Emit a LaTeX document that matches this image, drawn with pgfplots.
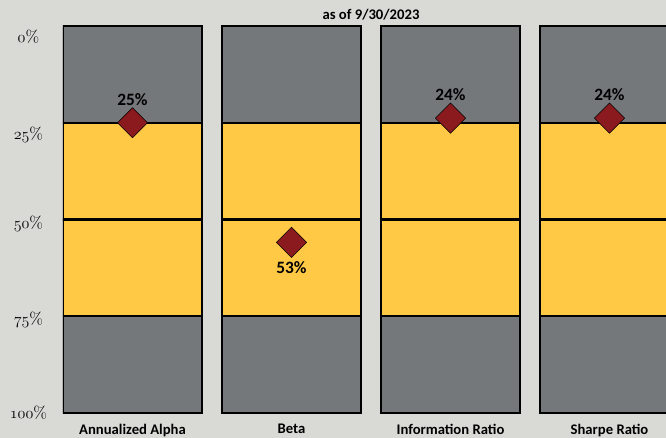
\documentclass[border=0pt]{standalone}
\usepackage{pgfplots}
\pgfplotsset{compat=1.18}
\usepackage{fontspec}
\setmainfont{Carlito}
\definecolor{bg}{HTML}{D9D9D6}
\definecolor{cgray}{HTML}{75787B}
\definecolor{cyel}{HTML}{FFC845}
\definecolor{cred}{HTML}{8B1A1F}
\newcommand\osn[1]{{\usefont{OML}{cmm}{m}{it}#1}{\usefont{TU}{lmr}{m}{n}\%}}
\pgfplotsset{base/.style={
  x=119.25pt, y=2.9025pt, y dir=reverse,
  xmin=-0.4371, xmax=3.6, ymin=0, ymax=100,
  at={(47.25pt,18.75pt)}, anchor=south west,
  axis line style={draw=none}, tick style={draw=none},
}}
\begin{document}
\begin{tikzpicture}
\fill[bg] (0,0) rectangle (499.5pt,328.5pt);
\begin{axis}[base, ybar stacked, bar width=104.25pt,
  xtick={0,1,2,3},
  xticklabels={Annualized Alpha,Beta,Information Ratio,Sharpe Ratio},
  xticklabel style={anchor=north, font=\bfseries\fontsize{11}{13}\selectfont, yshift=-4.8pt},
  ytick={2.8,28.2,51.2,75.8,100},
  yticklabels={\osn{0},\osn{25},\osn{50},\osn{75},\osn{100}},
  yticklabel style={anchor=center, xshift=-25.9pt, font=\fontsize{12.5}{14}\selectfont},
  axis on top=false,
]
\addplot[fill=cgray, draw=black, line width=1.6pt] coordinates {(0,25)(1,25)(2,25)(3,25)};
\addplot[fill=cyel, draw=black, line width=1.6pt] coordinates {(0,25)(1,25)(2,25)(3,25)};
\addplot[fill=cyel, draw=black, line width=1.6pt] coordinates {(0,25)(1,25)(2,25)(3,25)};
\addplot[fill=cgray, draw=black, line width=1.6pt] coordinates {(0,25)(1,25)(2,25)(3,25)};
\end{axis}
\begin{axis}[base, hide axis, clip=false]
\addplot[only marks, mark=square*, mark size=8pt,
  mark options={rotate=45, fill=cred, draw=none},
  point meta=explicit symbolic, nodes near coords,
  nodes near coords style={anchor=center, yshift=17.5pt, text=black, font=\bfseries\fontsize{13}{15}\selectfont}]
  coordinates {(0,25)[25\%] (2,23.8)[24\%] (3,23.8)[24\%]};
\addplot[only marks, mark=square*, mark size=8pt,
  mark options={rotate=45, fill=cred, draw=none},
  point meta=explicit symbolic, nodes near coords,
  nodes near coords style={anchor=center, yshift=-19pt, text=black, font=\bfseries\fontsize{13}{15}\selectfont}]
  coordinates {(1,55.9)[53\%]};
\end{axis}
\node[font=\bfseries\fontsize{11}{13}\selectfont] at (278.25pt,317.25pt) {as of 9/30/2023};
\pgfresetboundingbox
\useasboundingbox (0,0) rectangle (499.5pt,328.5pt);
\end{tikzpicture}
\end{document}
